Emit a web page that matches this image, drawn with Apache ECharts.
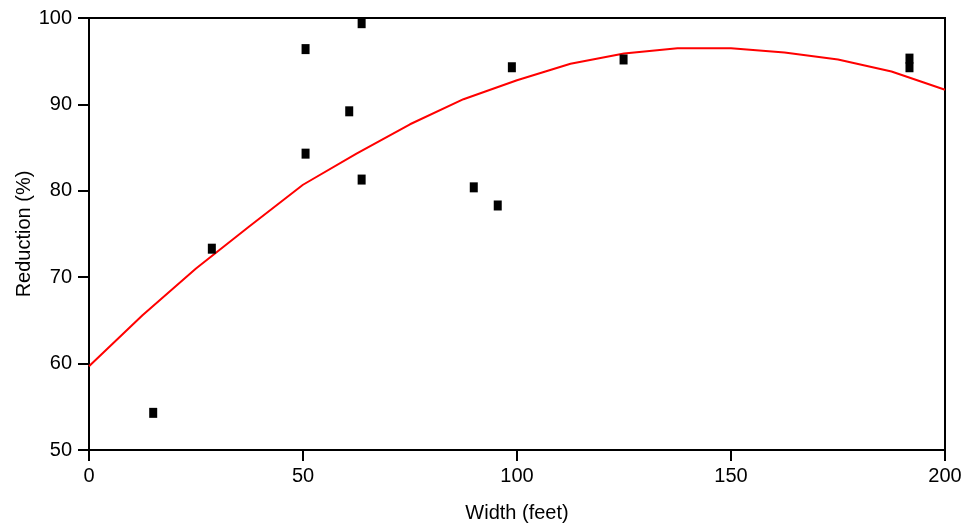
<!DOCTYPE html>
<html>
<head>
<meta charset="utf-8">
<script src="https://cdn.jsdelivr.net/npm/echarts@6/dist/echarts.min.js"></script>
<style>html,body{margin:0;padding:0;background:#fff}#c{width:969px;height:531px}</style>
</head>
<body>
<div id="c"></div>
<script>
// Observed data points
var obsWidth = [15, 28.7, 50.6, 50.6, 60.8, 63.7, 63.7, 89.9, 95.5, 98.8, 124.9, 191.7, 191.7];
var obsReduction = [54.3, 73.3, 96.4, 84.3, 89.2, 99.4, 81.3, 80.4, 78.3, 94.3, 95.2, 95.3, 94.3];
// Fitted curve
var fitWidth = [0, 12.5, 25, 37.5, 50, 62.5, 75, 87.5, 100, 112.5, 125, 137.5, 150, 162.5, 175, 187.5, 200];
var fitReduction = [59.7, 65.6, 71.0, 75.9, 80.7, 84.3, 87.7, 90.6, 92.8, 94.7, 95.9, 96.5, 96.5, 96.0, 95.2, 93.8, 91.7];

var xTitle = 'Width (feet)';
var yTitle = 'Reduction (%)';

var obs = obsWidth.map(function (w, i) { return [w, obsReduction[i]]; });
var fit = fitWidth.map(function (w, i) { return [w, fitReduction[i]]; });

var font = 'Liberation Sans, Arial, Helvetica, sans-serif';
var chart = echarts.init(document.getElementById('c'), null, {renderer: 'canvas'});
chart.setOption({
  animation: false,
  backgroundColor: '#fff',
  grid: {left: 89, right: 24, top: 18, bottom: 81, show: true, borderColor: '#000', borderWidth: 2, backgroundColor: 'transparent'},
  xAxis: {
    type: 'value', min: 0, max: 200, interval: 50,
    name: xTitle, nameLocation: 'middle', nameGap: 53, nameMoveOverlap: false,
    nameTextStyle: {fontFamily: font, fontSize: 20, color: '#000'},
    axisLine: {show: true, onZero: false, lineStyle: {color: '#000', width: 2}},
    axisTick: {show: true, length: 11, lineStyle: {color: '#000', width: 2}},
    axisLabel: {fontFamily: font, fontSize: 20, color: '#000', margin: 16},
    splitLine: {show: false}
  },
  yAxis: {
    type: 'value', min: 50, max: 100, interval: 10,
    name: yTitle, nameLocation: 'middle', nameGap: 55, nameMoveOverlap: false,
    nameTextStyle: {fontFamily: font, fontSize: 20, color: '#000'},
    axisLine: {show: true, onZero: false, lineStyle: {color: '#000', width: 2}},
    axisTick: {show: true, length: 11, lineStyle: {color: '#000', width: 2}},
    axisLabel: {fontFamily: font, fontSize: 20, color: '#000', margin: 17},
    splitLine: {show: false}
  },
  series: [
    {
      type: 'line', data: fit, showSymbol: false, symbol: 'none',
      lineStyle: {color: '#ff0000', width: 2}, z: 2
    },
    {
      type: 'scatter', data: obs, symbol: 'rect', symbolSize: [8, 10],
      itemStyle: {color: '#000', opacity: 1}, z: 3
    }
  ]
});
</script>
</body>
</html>
